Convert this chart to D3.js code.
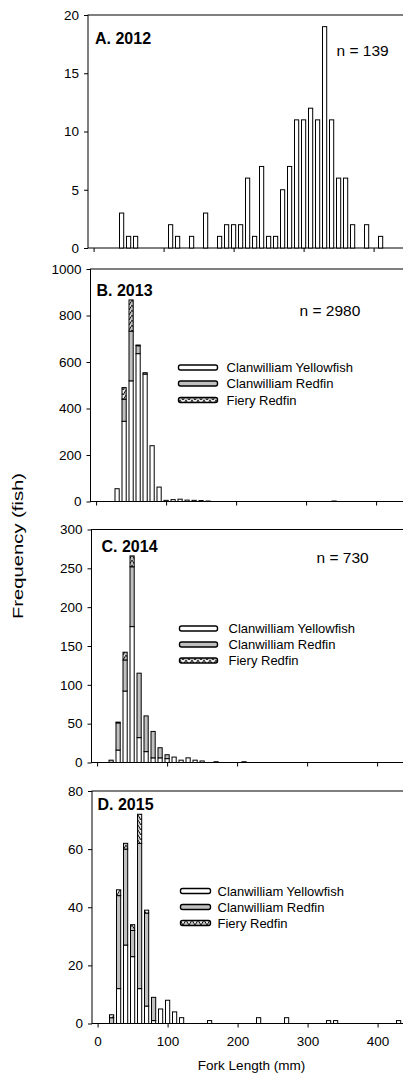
<!DOCTYPE html>
<html>
<head>
<meta charset="utf-8">
<script src="https://cdn.jsdelivr.net/npm/d3@7"></script>
<style>
  body { margin: 0; background: #fff; }
  text { font-family: Arial, "Liberation Sans", sans-serif; fill: #000; }
</style>
</head>
<body>
<svg id="chart" width="403" height="1079"></svg>
<script>
// ---- data: fork length bins (mm) and counts per species ----
const species = ['Clanwilliam Yellowfish', 'Clanwilliam Redfin', 'Fiery Redfin'];

// A. 2012 (yellowfish only)
const lenA = [40, 50, 60, 110, 120, 140, 160, 180, 190, 200, 210, 220, 230, 240, 250, 260, 270, 280, 290, 300, 310, 320, 330, 340, 350, 360, 370, 390, 410];
const yfA  = [3, 1, 1, 2, 1, 1, 3, 1, 2, 2, 2, 6, 1, 7, 1, 1, 5, 7, 11, 11, 12, 11, 19, 11, 6, 6, 2, 2, 1];
const rfA  = lenA.map(() => 0);
const frA  = lenA.map(() => 0);

// B. 2013
const lenB = [30, 40, 50, 60, 70, 80, 90, 100, 110, 120, 130, 140, 150, 160, 340];
const yfB  = [55, 345, 519, 636, 548, 240, 62, 5, 8, 10, 6, 5, 4, 2, 2];
const rfB  = [0, 95, 214, 34, 6, 0, 0, 0, 0, 0, 0, 0, 0, 0, 0];
const frB  = [0, 50, 134, 3, 0, 0, 0, 0, 0, 0, 0, 0, 0, 0, 0];

// C. 2014
const lenC = [20, 30, 40, 50, 60, 70, 80, 90, 100, 110, 120, 130, 140, 150, 170, 210];
const yfC  = [0, 16, 92, 175, 32, 14, 6, 6, 5, 7, 3, 6, 3, 2, 1, 1];
const rfC  = [3, 35, 40, 77, 83, 46, 34, 13, 5, 0, 0, 0, 0, 0, 0, 0];
const frC  = [0, 1, 10, 14, 0, 0, 0, 0, 0, 0, 0, 0, 0, 0, 0, 0];

// D. 2015
const lenD = [20, 30, 40, 50, 60, 70, 80, 90, 100, 110, 120, 160, 230, 270, 330, 340, 430];
const yfD  = [0, 12, 27, 23, 12, 6, 1, 5, 8, 4, 2, 1, 2, 2, 1, 1, 1];
const rfD  = [2, 32, 33, 9, 50, 32, 8, 0, 0, 0, 0, 0, 0, 0, 0, 0, 0];
const frD  = [1, 2, 2, 2, 10, 1, 0, 0, 0, 0, 0, 0, 0, 0, 0, 0, 0];

const xTicks = [0, 100, 200, 300, 400];

// ---- layout per panel ----
const panels = [
  { title: 'A. 2012', n: 'n = 139', len: lenA, yf: yfA, rf: rfA, fr: frA, ymax: 20, step: 5,
    top: 15, bottom: 248, left: 88, titleXY: [95, 43.5], nXY: [336.5, 55.5], legend: null },
  { title: 'B. 2013', n: 'n = 2980', len: lenB, yf: yfB, rf: rfB, fr: frB, ymax: 1000, step: 200,
    top: 269, bottom: 501.5, left: 90.5, titleXY: [96.5, 295.5], nXY: [299.5, 315.5],
    legend: { x: 178.5, w: 39, tx: 226.5, rows: [367.5, 383.5, 400] } },
  { title: 'C. 2014', n: 'n = 730', len: lenC, yf: yfC, rf: rfC, fr: frC, ymax: 300, step: 50,
    top: 529.5, bottom: 762.5, left: 91.5, titleXY: [101.5, 551.5], nXY: [316.5, 562.5],
    legend: { x: 179.5, w: 38, tx: 228.5, rows: [628.5, 644.5, 660.5] } },
  { title: 'D. 2015', n: null, len: lenD, yf: yfD, rf: rfD, fr: frD, ymax: 80, step: 20,
    top: 791, bottom: 1023.5, left: 92, titleXY: [97.5, 810], nXY: null,
    legend: { x: 180.5, w: 30, tx: 217.5, rows: [891, 907, 923] }, xLabels: true }
];

const pxPerMm = 0.7;
const xMin = -8, xMax = 460;
const grey = '#c0c0c0';

const svg = d3.select('#chart');

// Fiery redfin hatch: grey with a black zig-zag
const defs = svg.append('defs');
const pat = defs.append('pattern')
  .attr('id', 'fiery')
  .attr('patternUnits', 'userSpaceOnUse')
  .attr('width', 6).attr('height', 5);
pat.append('rect').attr('width', 6).attr('height', 5).attr('fill', grey);
pat.append('path').attr('d', 'M0,0 L3,5 L6,0')
  .attr('fill', '#eee').attr('stroke', '#000').attr('stroke-width', 0.9);

const fills = ['#fff', grey, 'url(#fiery)'];
const keys = ['yf', 'rf', 'fr'];

panels.forEach((p) => {
  const x = d3.scaleLinear()
    .domain([xMin, xMax])
    .range([p.left, p.left + (xMax - xMin) * pxPerMm]);
  const y = d3.scaleLinear().domain([0, p.ymax]).range([p.bottom, p.top]);
  const g = svg.append('g');

  // frame (right edge sits outside the picture)
  g.append('rect')
    .attr('x', x(xMin)).attr('y', y(p.ymax))
    .attr('width', x(xMax) - x(xMin)).attr('height', y(0) - y(p.ymax))
    .attr('fill', 'none').attr('stroke', '#000').attr('stroke-width', 1);

  // y axis
  const yAxis = d3.axisLeft(y)
    .tickValues(d3.range(0, p.ymax + p.step / 2, p.step))
    .tickSize(4).tickPadding(5).tickFormat(d3.format('d'));
  g.append('g')
    .attr('transform', `translate(${x(xMin)},0)`)
    .call(yAxis)
    .call((s) => s.select('.domain').remove())
    .call((s) => s.selectAll('text').attr('font-size', 13.5).attr('font-family', 'Arial, "Liberation Sans", sans-serif'));

  // x axis
  const xAxis = d3.axisBottom(x)
    .tickValues(xTicks).tickSize(4).tickPadding(9)
    .tickFormat(p.xLabels ? d3.format('d') : () => '');
  g.append('g')
    .attr('transform', `translate(0,${y(0)})`)
    .call(xAxis)
    .call((s) => s.select('.domain').remove())
    .call((s) => s.selectAll('text').attr('font-size', 13.5).attr('font-family', 'Arial, "Liberation Sans", sans-serif'));

  // stacked bars
  const rows = p.len.map((l, i) => ({ len: l, yf: p.yf[i], rf: p.rf[i], fr: p.fr[i] }));
  const stacked = d3.stack().keys(keys)(rows);
  const bw = 6 * pxPerMm;
  stacked.forEach((layer, k) => {
    g.append('g').selectAll('rect')
      .data(layer.filter((d) => d[1] - d[0] > 0))
      .join('rect')
      .attr('x', (d) => x(d.data.len) - bw / 2)
      .attr('width', bw)
      .attr('y', (d) => y(d[1]))
      .attr('height', (d) => y(d[0]) - y(d[1]))
      .attr('fill', fills[k])
      .attr('stroke', '#000')
      .attr('stroke-width', 1);
  });

  // panel title and sample size
  g.append('text')
    .attr('x', p.titleXY[0]).attr('y', p.titleXY[1])
    .attr('font-size', 16).attr('font-weight', 'bold')
    .text(p.title);
  if (p.n) {
    g.append('text')
      .attr('x', p.nXY[0]).attr('y', p.nXY[1])
      .attr('font-size', 15.5)
      .text(p.n);
  }

  // legend
  if (p.legend) {
    const lg = p.legend;
    species.forEach((name, i) => {
      g.append('rect')
        .attr('x', lg.x).attr('y', lg.rows[i] - 2.5)
        .attr('width', lg.w).attr('height', 5)
        .attr('rx', 2).attr('ry', 2)
        .attr('fill', fills[i]).attr('stroke', '#000').attr('stroke-width', 1.4);
      g.append('text')
        .attr('x', lg.tx).attr('y', lg.rows[i])
        .attr('dy', '0.35em')
        .attr('font-size', 13)
        .text(name);
    });
  }
});

// axis titles
svg.append('text')
  .attr('transform', 'translate(23,546) rotate(-90) scale(1.35,1)')
  .attr('text-anchor', 'middle')
  .attr('font-size', 15)
  .text('Frequency (fish)');

svg.append('text')
  .attr('x', 251.5).attr('y', 1070)
  .attr('text-anchor', 'middle')
  .attr('font-size', 13.5)
  .text('Fork Length (mm)');
</script>
</body>
</html>
